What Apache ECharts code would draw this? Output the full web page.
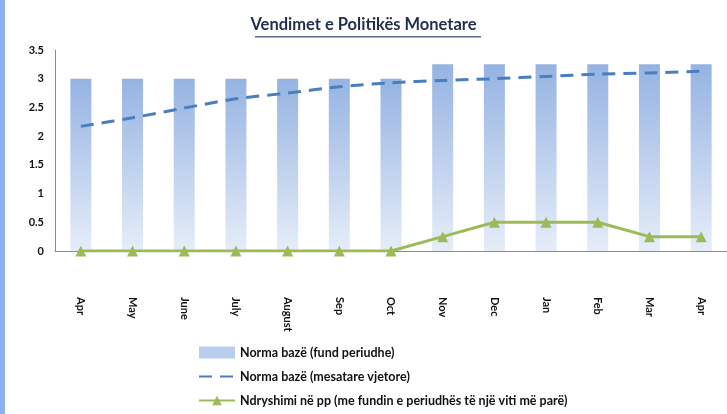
<!DOCTYPE html>
<html>
<head>
<meta charset="utf-8">
<script src="https://cdn.jsdelivr.net/npm/echarts@6/dist/echarts.min.js"></script>
<style>
  html, body { margin: 0; padding: 0; background: #fff; }
  #chart { width: 727px; height: 414px; }
</style>
</head>
<body>
<div id="chart"></div>
<script>
// months on the x axis
const months = ['Apr', 'May', 'June', 'July', 'August', 'Sep', 'Oct', 'Nov', 'Dec', 'Jan', 'Feb', 'Mar', 'Apr'];
// Norma bazë (fund periudhe)
const rateEnd = [3, 3, 3, 3, 3, 3, 3, 3.25, 3.25, 3.25, 3.25, 3.25, 3.25];
// Norma bazë (mesatare vjetore)
const rateAvg = [2.17, 2.32, 2.49, 2.65, 2.75, 2.86, 2.93, 2.97, 3.0, 3.04, 3.08, 3.1, 3.13];
// Ndryshimi në pp
const changePp = [0, 0, 0, 0, 0, 0, 0, 0.25, 0.5, 0.5, 0.5, 0.25, 0.25];
const yTicks = [0, 0.5, 1, 1.5, 2, 2.5, 3, 3.5];

const font = 'Lato, "Open Sans", sans-serif';
const myChart = echarts.init(document.getElementById('chart'));

const barFill = new echarts.graphic.LinearGradient(0, 0, 0, 1, [
    {offset: 0, color: '#95b3e2'},
    {offset: 1, color: '#e6edf8'}
]);

let option = {
    animation: false,
    textStyle: {fontFamily: font},
    graphic: [
        {type: 'rect', left: 0, top: 0, shape: {width: 5, height: 414}, style: {fill: '#8db1ea'}},
        {
            type: 'text', left: 'center', top: 16,
            style: {text: 'Vendimet e Politikës Monetare', font: 'bold 16.5px ' + font, fill: '#1f2f4d'}
        },
        {type: 'rect', left: 255, top: 36, shape: {width: 226, height: 1.5}, style: {fill: '#5a6a86'}}
    ],
    grid: {left: 55, right: -5, top: 50, bottom: 163},
    legend: {
        orient: 'vertical',
        left: 198,
        top: 346,
        bottom: 0,
        padding: 0,
        itemWidth: 36,
        itemHeight: 12,
        itemGap: 11,
        textStyle: {fontFamily: font, fontWeight: 'bold', fontSize: 12.5, color: '#111'},
        data: [
            {name: 'Norma bazë (fund periudhe)', icon: 'rect', itemStyle: {color: '#b9cdef'}},
            {name: 'Norma bazë (mesatare vjetore)', itemStyle: {opacity: 0}},
            {name: 'Ndryshimi në pp (me fundin e periudhës të një viti më parë)'}
        ]
    },
    xAxis: {
        type: 'category',
        data: months,
        axisLine: {lineStyle: {color: '#8c8c8c', width: 1}},
        axisTick: {show: false},
        axisLabel: {
            rotate: -90,
            margin: 46,
            fontFamily: font,
            fontWeight: 'bold',
            fontSize: 11,
            color: '#111',
            interval: 0
        }
    },
    yAxis: {
        type: 'value',
        min: 0,
        max: 3.5,
        interval: 0.5,
        axisLine: {show: true, lineStyle: {color: '#8c8c8c', width: 1}},
        axisTick: {show: false},
        splitLine: {show: false},
        axisLabel: {
            fontFamily: font,
            fontWeight: 'bold',
            fontSize: 11,
            color: '#111',
            margin: 11,
            formatter: (v) => yTicks.includes(v) ? String(v) : ''
        }
    },
    series: [
        {
            name: 'Norma bazë (fund periudhe)',
            type: 'bar',
            data: rateEnd,
            barWidth: 21,
            itemStyle: {color: barFill}
        },
        {
            name: 'Norma bazë (mesatare vjetore)',
            type: 'line',
            data: rateAvg,
            symbol: 'none',
            smooth: 0.3,
            lineStyle: {color: '#4a7ec0', width: 3, type: [13, 8]},
            itemStyle: {color: '#4a7ec0'}
        },
        {
            name: 'Ndryshimi në pp (me fundin e periudhës të një viti më parë)',
            type: 'line',
            data: changePp,
            symbol: 'triangle',
            symbolSize: 11,
            lineStyle: {color: '#9bbb59', width: 3},
            itemStyle: {color: '#9bbb59'}
        }
    ]
};
myChart.setOption(option);
</script>
</body>
</html>
